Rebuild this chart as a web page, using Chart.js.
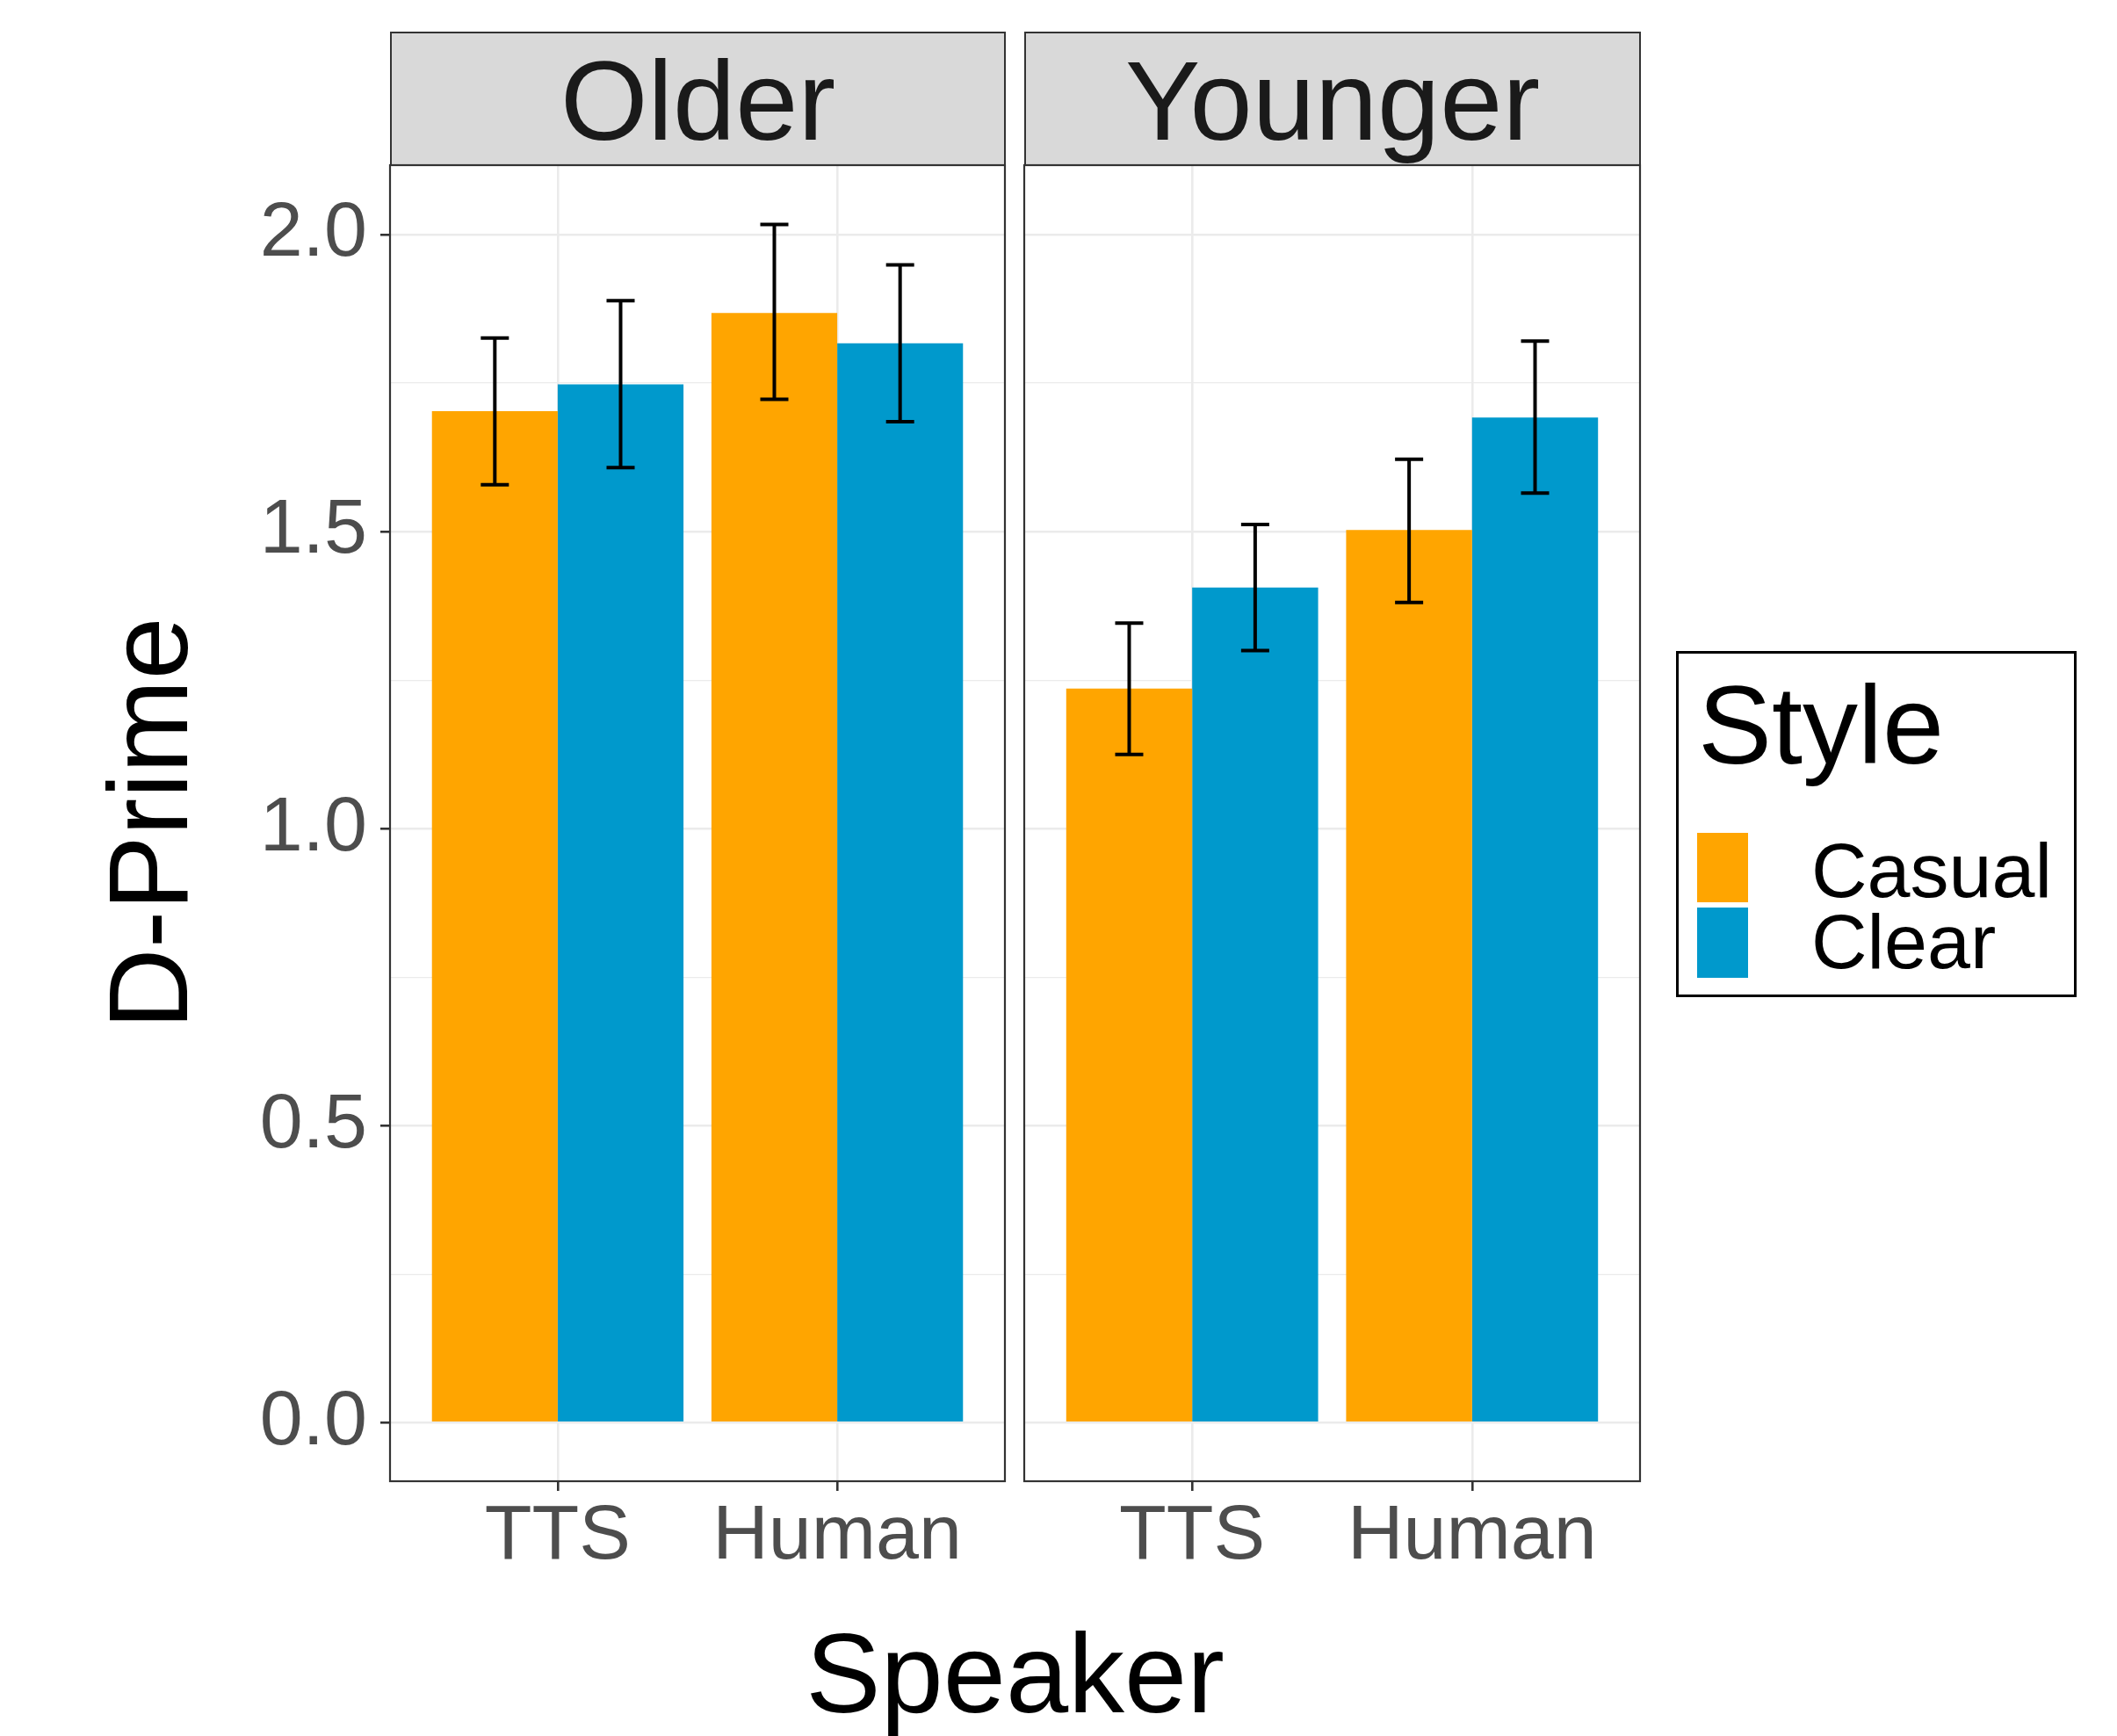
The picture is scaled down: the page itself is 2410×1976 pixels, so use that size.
<!DOCTYPE html>
<html>
<head>
<meta charset="utf-8">
<script src="https://cdn.jsdelivr.net/npm/chart.js@4.4.1/dist/chart.umd.min.js"></script>
<style>
  body { margin: 0; background: #fff; width: 2410px; height: 1976px; position: relative; overflow: hidden;
         font-family: "Liberation Sans", Arial, sans-serif; }
  canvas { position: absolute; }
  .strip { position: absolute; top: 36px; height: 153px; background: #d9d9d9; border: 2px solid #333; box-sizing: border-box; }
  .txt { position: absolute; white-space: nowrap; }
  .big { font-size: 128px; line-height: 128px; }
  .mid { font-size: 88px; line-height: 88px; }
</style>
</head>
<body>

<div class="strip" style="left:444px;width:701px;"></div>
<div class="strip" style="left:1166px;width:702px;"></div>
<div class="txt big" style="left:444px;width:701px;top:51px;text-align:center;color:#1a1a1a;">Older</div>
<div class="txt big" style="left:1166px;width:702px;top:51px;text-align:center;color:#1a1a1a;">Younger</div>

<canvas id="older" width="1148" height="1612" style="left:0;top:184px;"></canvas>
<canvas id="younger" width="709" height="1612" style="left:1162px;top:184px;"></canvas>

<div class="txt big" style="left:0;width:2311px;top:1841px;text-align:center;color:#000;">Speaker</div>
<div class="txt big" style="left:-231px;top:873px;width:800px;text-align:center;color:#000;transform:rotate(-90deg);">D-Prime</div>

<div style="position:absolute;left:1908px;top:741px;width:456px;height:394px;border:3px solid #000;box-sizing:border-box;"></div>
<div class="txt" style="left:1933px;top:763px;font-size:126px;line-height:126px;color:#000;">Style</div>
<div id="key0" style="position:absolute;left:1932px;top:948px;width:58px;height:79px;"></div>
<div id="key1" style="position:absolute;left:1932px;top:1033px;width:58px;height:80px;"></div>
<div class="txt mid" id="lab0" style="left:2062px;top:947px;color:#000;"></div>
<div class="txt mid" id="lab1" style="left:2062px;top:1028px;color:#000;"></div>

<script>
// data
const speakers = ['TTS', 'Human'];
const speakerPos = [1, 2];
const styles = ['Casual', 'Clear'];
const styleColors = ['#FFA500', '#0099CC'];

const olderCasual   = [1.703, 1.868];
const olderCasualLo = [1.579, 1.723];
const olderCasualHi = [1.826, 2.017];
const olderClear    = [1.748, 1.817];
const olderClearLo  = [1.608, 1.685];
const olderClearHi  = [1.889, 1.949];

const youngerCasual   = [1.236, 1.503];
const youngerCasualLo = [1.125, 1.381];
const youngerCasualHi = [1.346, 1.622];
const youngerClear    = [1.406, 1.692];
const youngerClearLo  = [1.300, 1.565];
const youngerClearHi  = [1.512, 1.821];

const yTicks = [0, 0.5, 1.0, 1.5, 2.0];
const yMinorTicks = [0.25, 0.75, 1.25, 1.75];

Chart.defaults.font.family = '"Liberation Sans", Arial, sans-serif';

// legend keys
styles.forEach((s, i) => {
    document.getElementById('key' + i).style.background = styleColors[i];
    document.getElementById('lab' + i).textContent = s;
});

const isMajor = v => yTicks.some(t => Math.abs(t - v) < 1e-9);

// error bars + panel border
const errorBars = {
    id: 'errorBars',
    afterDatasetsDraw(chart) {
        const ctx = chart.ctx;
        const y = chart.scales.y;
        ctx.save();
        ctx.strokeStyle = '#000';
        ctx.lineWidth = 4;
        chart.data.datasets.forEach((ds, di) => {
            chart.getDatasetMeta(di).data.forEach((bar, i) => {
                const top = y.getPixelForValue(ds.errHi[i]);
                const bot = y.getPixelForValue(ds.errLo[i]);
                ctx.beginPath();
                ctx.moveTo(bar.x, top); ctx.lineTo(bar.x, bot);
                ctx.moveTo(bar.x - 16, top); ctx.lineTo(bar.x + 16, top);
                ctx.moveTo(bar.x - 16, bot); ctx.lineTo(bar.x + 16, bot);
                ctx.stroke();
            });
        });
        const a = chart.chartArea;
        ctx.strokeStyle = '#333';
        ctx.lineWidth = 2.2;
        ctx.strokeRect(a.left, a.top, a.right - a.left, a.bottom - a.top);
        ctx.restore();
    }
};

function makePanel(id, casual, casualLo, casualHi, clear, clearLo, clearHi, showY) {
    const toPts = vals => vals.map((v, i) => ({ x: speakerPos[i], y: v }));
    return new Chart(document.getElementById(id), {
        type: 'bar',
        data: {
            datasets: [
                { label: styles[0], data: toPts(casual), errLo: casualLo, errHi: casualHi,
                  backgroundColor: styleColors[0], categoryPercentage: 0.9, barPercentage: 1.0 },
                { label: styles[1], data: toPts(clear), errLo: clearLo, errHi: clearHi,
                  backgroundColor: styleColors[1], categoryPercentage: 0.9, barPercentage: 1.0 }
            ]
        },
        options: {
            responsive: false,
            animation: false,
            layout: { padding: { left: showY ? 0 : 4, right: 4, top: 4, bottom: 0 } },
            plugins: { legend: { display: false }, tooltip: { enabled: false } },
            scales: {
                x: {
                    type: 'linear', min: 0.4, max: 2.6, offset: false,
                    afterBuildTicks: s => { s.ticks = speakerPos.map(v => ({ value: v })); },
                    afterFit: s => { s.height = 110; s.paddingLeft = 0; s.paddingRight = 0; },
                    grid: { offset: false, color: '#EBEBEB', lineWidth: 2.6, drawTicks: true, tickLength: 11,
                            tickColor: '#333', tickWidth: 2.6 },
                    border: { display: false },
                    ticks: { color: '#4D4D4D', font: { size: 88 }, padding: 0, maxRotation: 0, autoSkip: false,
                             callback: v => speakers[speakerPos.indexOf(v)] }
                },
                y: {
                    min: -0.0985, max: 2.117,
                    afterBuildTicks: s => {
                        s.ticks = yTicks.concat(yMinorTicks).sort((a, b) => a - b).map(v => ({ value: v }));
                    },
                    afterFit: s => { s.width = showY ? 444 : 0; s.paddingTop = 0; s.paddingBottom = 0; },
                    grid: {
                        color: '#EBEBEB',
                        lineWidth: c => isMajor(c.tick.value) ? 2.6 : 1.3,
                        drawTicks: showY, tickLength: 11,
                        tickColor: c => isMajor(c.tick.value) ? '#333' : 'rgba(0,0,0,0)',
                        tickWidth: 2.6
                    },
                    border: { display: false },
                    ticks: { display: showY, color: '#4D4D4D', font: { size: 88 }, padding: 15, autoSkip: false,
                             callback: v => isMajor(v) ? v.toFixed(1) : '' }
                }
            }
        },
        plugins: [errorBars]
    });
}

makePanel('older', olderCasual, olderCasualLo, olderCasualHi, olderClear, olderClearLo, olderClearHi, true);
makePanel('younger', youngerCasual, youngerCasualLo, youngerCasualHi, youngerClear, youngerClearLo, youngerClearHi, false);
</script>
</body>
</html>
